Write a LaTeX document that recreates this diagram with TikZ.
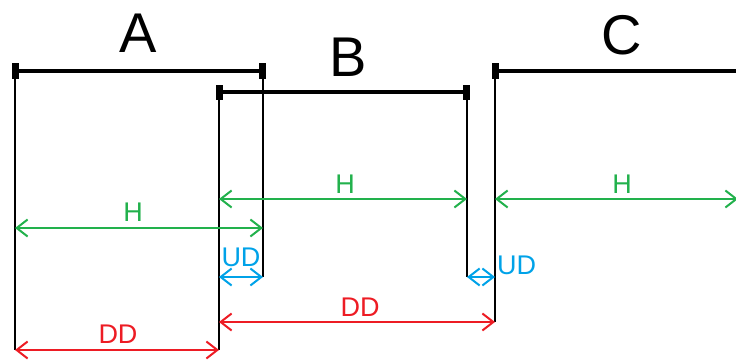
\documentclass[tikz,border=0pt]{standalone}
\usepackage{fontspec}
\setmainfont{Liberation Sans}
\usetikzlibrary{arrows.meta}

\definecolor{hgreen}{RGB}{34,177,76}
\definecolor{udblue}{RGB}{0,162,232}
\definecolor{ddred}{RGB}{237,28,36}

\begin{document}
\begin{tikzpicture}[
    x=1pt, y=-1pt, line cap=butt,
    bar/.style   ={line width=3.2pt, shorten <=-3pt, shorten >=-3pt},
    barends/.style={bar, {Rectangle[length=7pt,width=15pt]}-{Rectangle[length=7pt,width=15pt]}},
    guide/.style ={line width=2pt},
    dimline/.style={line width=2pt, {Straight Barb[length=11pt,width=17pt]}-{Straight Barb[length=11pt,width=17pt]}},
    hdim/.style  ={dimline, hgreen},
    uddim/.style ={dimline, udblue},
    dddim/.style ={dimline, ddred},
    barlab/.style={font=\fontsize{56}{60}\selectfont},
    dlab/.style  ={font=\fontsize{27}{30}\selectfont, inner sep=0pt}
]
\useasboundingbox (0,0) rectangle (736,361);

% A
\coordinate (aL)  at (15,71);
\coordinate (aR)  at (263,71);
\coordinate (aLb) at (15,350);
\coordinate (aRb) at (263,277);
\draw[barends] (aL) -- (aR);
\draw[guide] (aL) -- (aLb);
\draw[guide] (aR) -- (aRb);
\node[barlab] (labA) at (138,33) {A};

% B
\coordinate (bL)  at (219,92);
\coordinate (bR)  at (467,92);
\coordinate (bLb) at (219,350);
\coordinate (bRb) at (467,277);
\draw[barends] (bL) -- (bR);
\draw[guide] (bL) -- (bLb);
\draw[guide] (bR) -- (bRb);
\node[barlab] (labB) at (348,57) {B};

% C (runs off the right edge)
\coordinate (cL)  at (495,71);
\coordinate (cR)  at (740,71);
\coordinate (cLb) at (495,322);
\draw[bar, {Rectangle[length=7pt,width=15pt]}-] (cL) -- (cR);
\draw[guide] (cL) -- (cLb);
\node[barlab] (labC) at (622,35) {C};

% H
\draw[hdim] (aL |- 0,228) -- (aR |- 0,228);
\node[dlab, text=hgreen] (hA) at (133,212) {H};
\draw[hdim] (bL |- 0,199) -- (bR |- 0,199);
\node[dlab, text=hgreen] (hB) at (345,184) {H};
\draw[hdim] (cL |- 0,199) -- (738,199);
\node[dlab, text=hgreen] (hC) at (622,184) {H};

% UD
\draw[uddim] (bL |- aRb) -- (aRb);
\node[dlab, text=udblue] (udA) at (241,257) {UD};
\draw[uddim] (bRb) -- (cL |- bRb);
\node[dlab, text=udblue, anchor=west] (udB) at (497,265) {UD};

% DD
\draw[dddim] (aLb) -- (bLb);
\node[dlab, text=ddred] (ddA) at (118,334) {DD};
\draw[dddim] (bL |- cLb) -- (cLb);
\node[dlab, text=ddred] (ddB) at (360,307) {DD};
\end{tikzpicture}
\end{document}
